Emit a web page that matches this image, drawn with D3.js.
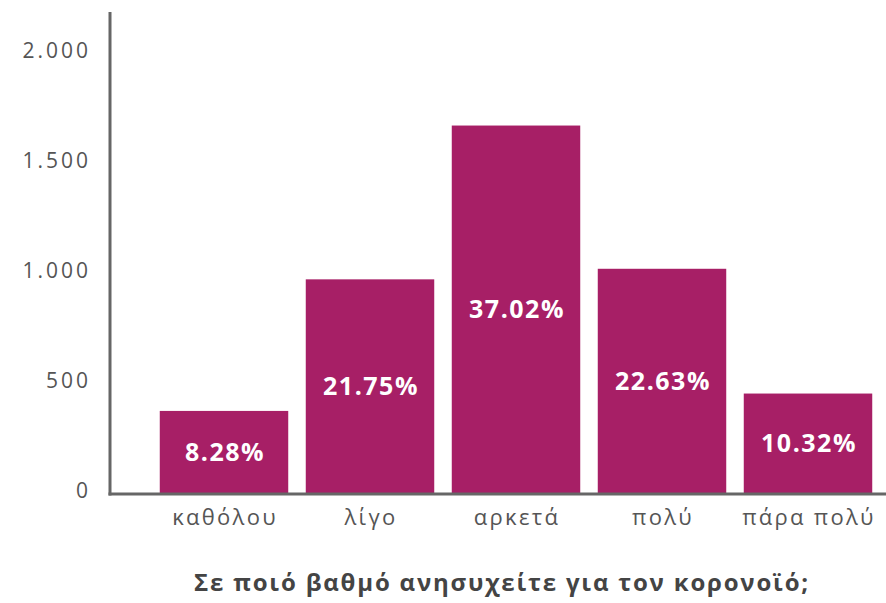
<!DOCTYPE html>
<html>
<head>
<meta charset="utf-8">
<script src="https://cdn.jsdelivr.net/npm/d3@7"></script>
<style>
  body { margin: 0; background: #fff; }
  svg { display: block; font-family: "Open Sans", "Noto Sans", sans-serif; }
</style>
</head>
<body>
<div id="chart"></div>
<script>
// answers and counts
const categories = ["καθόλου", "λίγο", "αρκετά", "πολύ", "πάρα πολύ"];
const counts = [373, 971, 1670, 1019, 452];
const percentLabels = ["8.28%", "21.75%", "37.02%", "22.63%", "10.32%"];
const yTicks = [0, 500, 1000, 1500, 2000];
const title = "Σε ποιό βαθμό ανησυχείτε για τον κορονοϊό;";

const width = 886;
const height = 603;
const axisX = 110;
const baseY = 493;

const svg = d3.select("#chart")
  .append("svg")
  .attr("width", width)
  .attr("height", height);

const x = d3.scaleBand()
  .domain(categories)
  .range([151, 881])
  .paddingInner(0.12)
  .paddingOuter(0.06);

const y = d3.scaleLinear()
  .domain([0, 2186])
  .range([baseY, 12]);

const fmt = d3.format(",");
const grFormat = v => fmt(v).replace(/,/g, ".");

// bars
svg.selectAll("rect.bar")
  .data(counts)
  .enter()
  .append("rect")
  .attr("class", "bar")
  .attr("x", (d, i) => x(categories[i]))
  .attr("y", d => y(d))
  .attr("width", x.bandwidth())
  .attr("height", d => y(0) - y(d))
  .attr("fill", "#a71f66");

// percent labels in the middle of each bar
svg.selectAll("text.pct")
  .data(counts)
  .enter()
  .append("text")
  .attr("class", "pct")
  .attr("x", (d, i) => x(categories[i]) + x.bandwidth() / 2 + 1)
  .attr("y", d => (y(d) + y(0)) / 2)
  .attr("dy", "0.36em")
  .attr("text-anchor", "middle")
  .attr("fill", "#fff")
  .attr("font-weight", "bold")
  .attr("font-size", 25)
  .style("letter-spacing", "1.5px")
  .text((d, i) => percentLabels[i]);

// y axis
const yAxis = d3.axisLeft(y)
  .tickValues(yTicks)
  .tickSize(0)
  .tickPadding(19)
  .tickFormat(grFormat);

const gy = svg.append("g")
  .attr("transform", `translate(${axisX},0)`)
  .call(yAxis);
gy.select(".domain").remove();
gy.selectAll("text")
  .attr("font-size", 21)
  .attr("fill", "#555")
  .attr("dy", "0.2em")
  .style("letter-spacing", "3px")
  .style("font-family", "'Open Sans', sans-serif");

// x axis labels
const xAxis = d3.axisBottom(x).tickSize(0).tickPadding(16);
const gx = svg.append("g")
  .attr("transform", `translate(0,${baseY})`)
  .call(xAxis);
gx.select(".domain").remove();
gx.selectAll("text")
  .attr("font-size", 22)
  .attr("fill", "#555")
  .attr("dx", "1px")
  .style("letter-spacing", "2.3px")
  .style("font-family", "'Open Sans', sans-serif");

// axis lines
svg.append("line")
  .attr("x1", axisX).attr("x2", axisX)
  .attr("y1", 12).attr("y2", baseY + 2.5)
  .attr("stroke", "#666").attr("stroke-width", 3);
svg.append("line")
  .attr("x1", axisX - 1.5).attr("x2", width)
  .attr("y1", baseY + 1).attr("y2", baseY + 1)
  .attr("stroke", "#666").attr("stroke-width", 3);

// title
svg.append("text")
  .attr("x", 502)
  .attr("y", 591)
  .attr("text-anchor", "middle")
  .attr("font-size", 24)
  .attr("font-weight", "bold")
  .attr("fill", "#444")
  .style("letter-spacing", "1.8px")
  .text(title);
</script>
</body>
</html>
